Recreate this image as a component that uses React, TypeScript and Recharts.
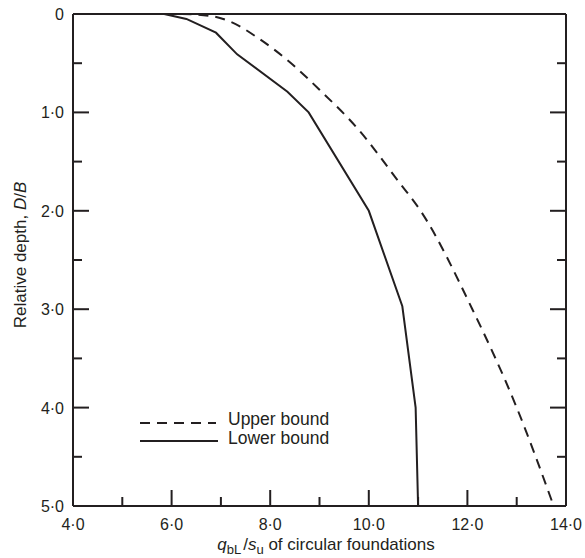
import React from 'react';
import { LineChart, Line, XAxis, YAxis } from 'recharts';

// q_bL/s_u vs relative depth D/B
const lowerQ = [5.85, 6.3, 6.9, 7.33, 8.35, 8.78, 10.0, 10.68, 10.95, 11.0];
const lowerD = [0, 0.05, 0.19, 0.41, 0.79, 1.0, 2.0, 2.97, 4.0, 5.0];
const upperQ = [6.2, 6.8, 7.2, 7.8, 8.4, 9.0, 9.8, 10.6, 11.05, 12.1, 13.0, 13.75];
const upperD = [0, 0.02, 0.08, 0.26, 0.49, 0.77, 1.18, 1.7, 2.0, 3.0, 4.0, 5.0];

const bottomTicks = [4, 5, 6, 7, 8, 9, 10, 11, 12, 13, 14];
const topTicks = [5.667, 7.333, 9.0, 10.667, 12.333];
const depthTicks = [0, 0.5, 1, 1.5, 2, 2.5, 3, 3.5, 4, 4.5, 5];

const lower = lowerQ.map((q, i) => ({ q, d: lowerD[i] }));
const upper = upperQ.map((q, i) => ({ q, d: upperD[i] }));

const INK = '#231f20';
const FONT = '"Liberation Sans", Arial, Helvetica, sans-serif';
const LONG = 16;
const SHORT = 9;

const fmt = (v: number) => (v === 0 ? '0' : v.toFixed(1).replace('.', '\u00b7'));

const BottomTick = ({ x, y, payload }: any) => {
  const v = payload.value;
  const major = v % 2 === 0;
  const inner = v > 4 && v < 14;
  return (
    <g>
      {inner && <line x1={x} x2={x} y1={y} y2={y - (major ? LONG : SHORT)} stroke={INK} strokeWidth={2} />}
      {major && (
        <text x={x} y={y + 24} textAnchor="middle" fontFamily={FONT} fontSize={16} fill={INK}>
          {fmt(v)}
        </text>
      )}
    </g>
  );
};

const TopTick = ({ x, y, index }: any) => (
  <line x1={x} x2={x} y1={y} y2={y + (index % 2 === 0 ? LONG : SHORT)} stroke={INK} strokeWidth={2} />
);

const LeftTick = ({ x, y, payload }: any) => {
  const v = payload.value;
  const major = Number.isInteger(v);
  const inner = v > 0 && v < 5;
  return (
    <g>
      {inner && <line x1={x} x2={x + (major ? LONG : SHORT)} y1={y} y2={y} stroke={INK} strokeWidth={2} />}
      {major && (
        <text x={x - 9} y={y + 6} textAnchor="end" fontFamily={FONT} fontSize={16} fill={INK}>
          {fmt(v)}
        </text>
      )}
    </g>
  );
};

const RightTick = ({ x, y, payload }: any) => {
  const v = payload.value;
  if (v <= 0 || v >= 5) return <g />;
  const major = Number.isInteger(v);
  return <line x1={x} x2={x - (major ? LONG : SHORT)} y1={y} y2={y} stroke={INK} strokeWidth={2} />;
};

const XTitle = () => (
  <text x={326} y={550} textAnchor="middle" fontFamily={FONT} fontSize={17} fill={INK}>
    <tspan fontStyle="italic">q</tspan>
    <tspan fontSize={13} dy={4}>bL</tspan>
    <tspan dx={2} dy={-4}>/</tspan>
    <tspan fontStyle="italic">s</tspan>
    <tspan fontSize={13} dy={4}>u</tspan>
    <tspan dy={-4}> of circular foundations</tspan>
  </text>
);

const YTitle = () => (
  <text
    transform="translate(26,255) rotate(-90)"
    textAnchor="middle"
    fontFamily={FONT}
    fontSize={17}
    fill={INK}
  >
    Relative depth, <tspan fontStyle="italic">D</tspan>/<tspan fontStyle="italic">B</tspan>
  </text>
);

const LegendBox = () => (
  <g fontFamily={FONT} fontSize={17.5} fill={INK}>
    <line x1={140} x2={216} y1={423} y2={423} stroke={INK} strokeWidth={2} strokeDasharray="10 7" />
    <text x={228} y={425}>Upper bound</text>
    <line x1={140} x2={218} y1={441} y2={441} stroke={INK} strokeWidth={2} />
    <text x={228} y={443.5}>Lower bound</text>
  </g>
);

export default function App() {
  return (
    <div style={{ position: 'absolute', left: 0, top: 0, background: '#fff' }}>
      <LineChart width={585} height={558} margin={{ top: 0, right: 0, bottom: 0, left: 0 }}>
        <XAxis
          xAxisId="b"
          type="number"
          dataKey="q"
          domain={[4, 14]}
          ticks={bottomTicks}
          interval={0}
          allowDataOverflow
          height={52}
          tickSize={0}
          tickMargin={0}
          tickLine={false}
          axisLine={{ stroke: INK, strokeWidth: 2 }}
          tick={(p: any) => <BottomTick {...p} />}
          label={<XTitle />}
        />
        <XAxis
          xAxisId="t"
          orientation="top"
          type="number"
          domain={[4, 14]}
          ticks={topTicks}
          interval={0}
          allowDataOverflow
          height={14}
          tickSize={0}
          tickMargin={0}
          tickLine={false}
          axisLine={{ stroke: INK, strokeWidth: 2 }}
          tick={(p: any) => <TopTick {...p} />}
          label={<LegendBox />}
        />
        <YAxis
          yAxisId="l"
          type="number"
          dataKey="d"
          domain={[0, 5]}
          reversed
          ticks={depthTicks}
          interval={0}
          allowDataOverflow
          width={73}
          tickSize={0}
          tickMargin={0}
          tickLine={false}
          axisLine={{ stroke: INK, strokeWidth: 2 }}
          tick={(p: any) => <LeftTick {...p} />}
          label={<YTitle />}
        />
        <YAxis
          yAxisId="r"
          orientation="right"
          type="number"
          domain={[0, 5]}
          reversed
          ticks={depthTicks}
          interval={0}
          allowDataOverflow
          width={19}
          tickSize={0}
          tickMargin={0}
          tickLine={false}
          axisLine={{ stroke: INK, strokeWidth: 2 }}
          tick={(p: any) => <RightTick {...p} />}
        />
        <Line
          xAxisId="b"
          yAxisId="l"
          data={upper}
          dataKey="d"
          type="monotone"
          stroke={INK}
          strokeWidth={2}
          strokeDasharray="10 7"
          dot={false}
          isAnimationActive={false}
        />
        <Line
          xAxisId="b"
          yAxisId="l"
          data={lower}
          dataKey="d"
          type="linear"
          stroke={INK}
          strokeWidth={2}
          dot={false}
          isAnimationActive={false}
        />
      </LineChart>
    </div>
  );
}
